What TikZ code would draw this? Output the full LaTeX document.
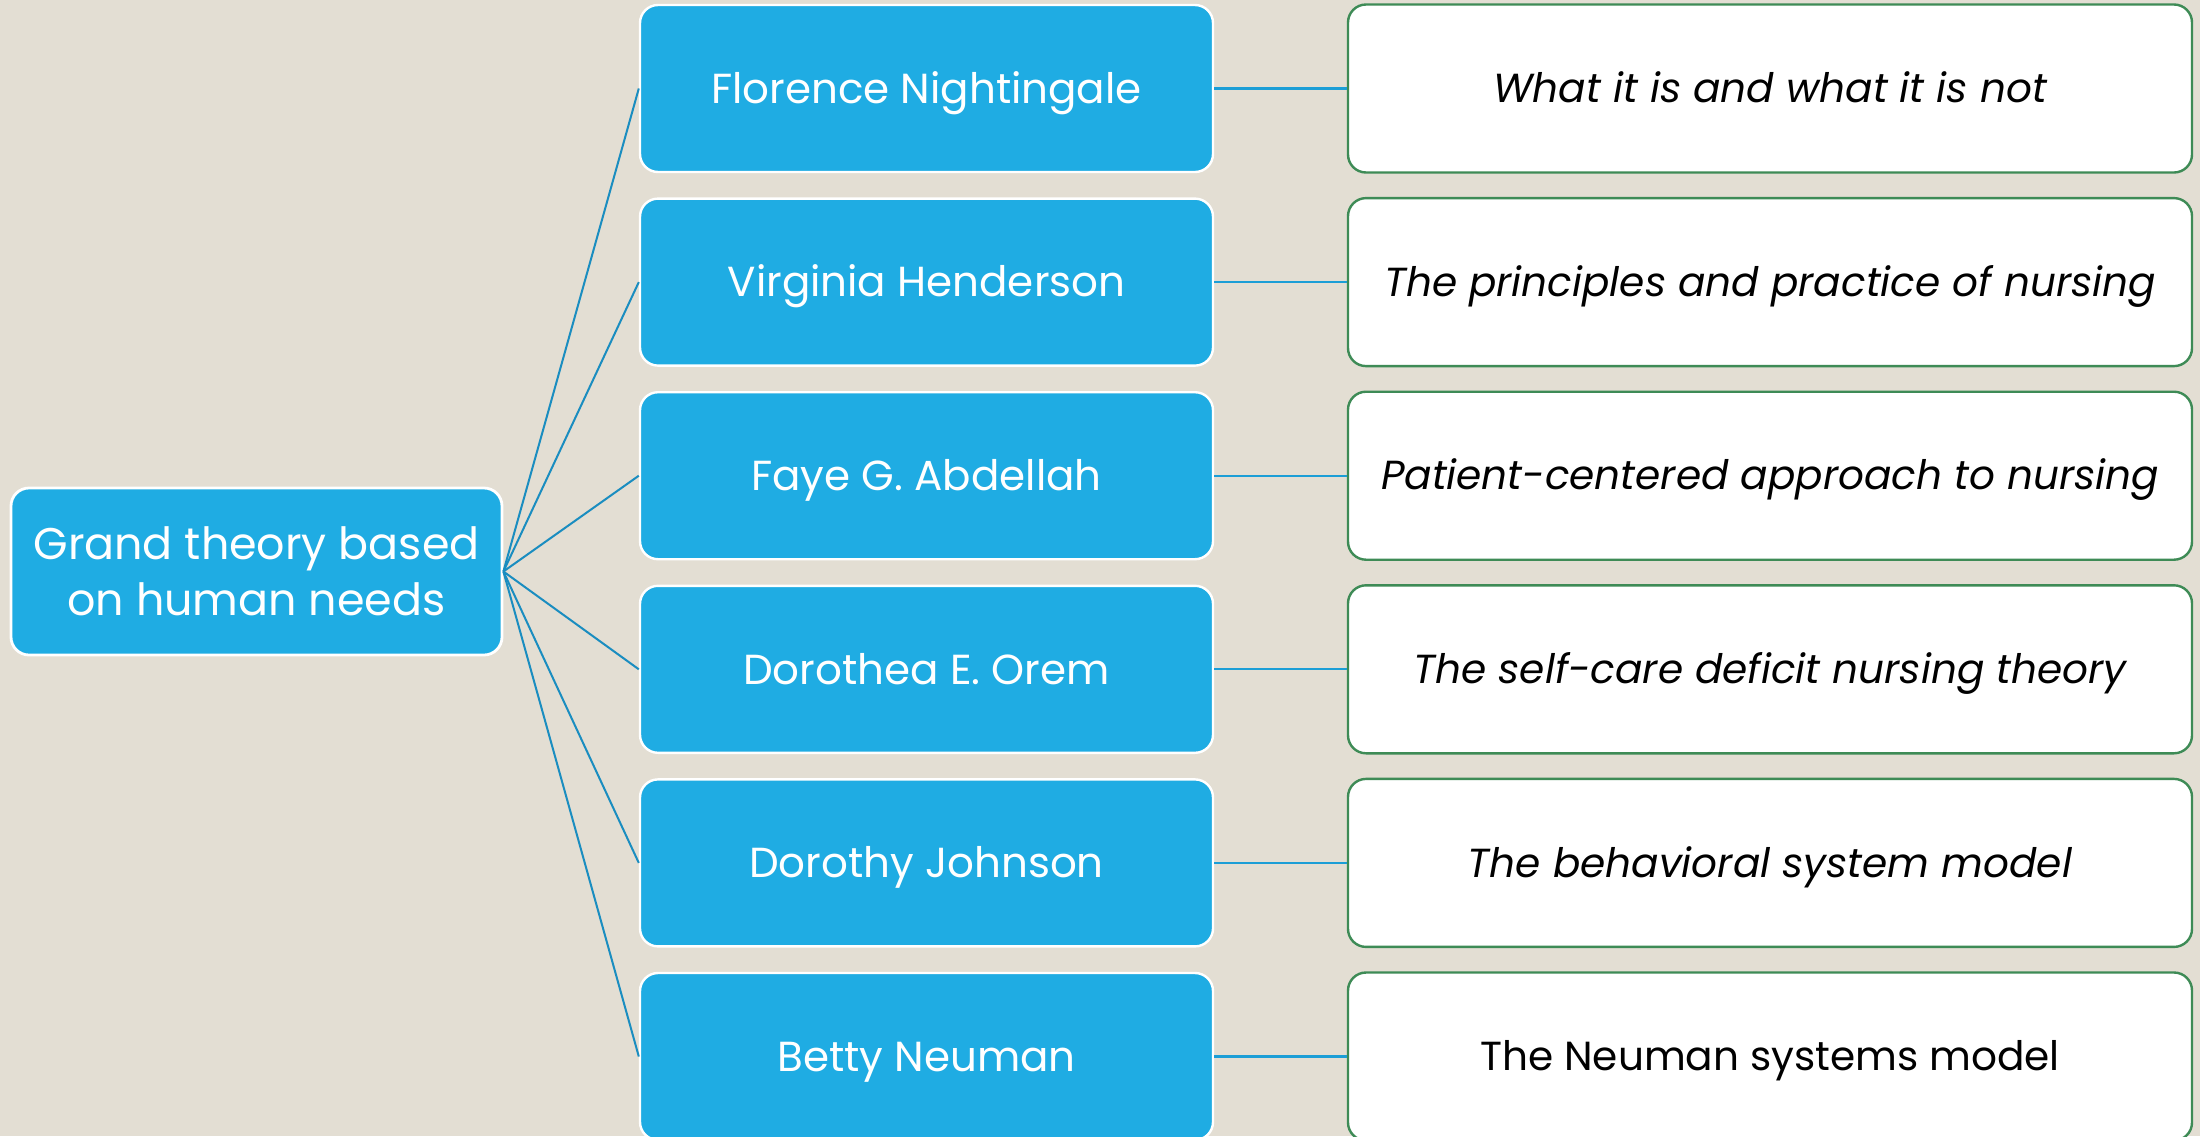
\documentclass[tikz,border=0pt]{standalone}
\usepackage{fontspec}
\setmainfont{Poppins}
\definecolor{bg}{HTML}{E3DED3}
\definecolor{bluefill}{HTML}{1FACE3}
\definecolor{fanline}{HTML}{1A8DC0}
\definecolor{hline}{HTML}{1C9ED6}
\definecolor{greenb}{HTML}{3E8B56}
\begin{document}
\begin{tikzpicture}[x=0.5pt,y=-0.5pt,
  rootbox/.style={draw=white,line width=1.4pt,fill=bluefill,rounded corners=9pt,
    minimum width=245.5pt,minimum height=83.5pt,inner sep=0pt,text=white,
    align=center,font=\fontsize{22.2}{28}\selectfont},
  midbox/.style={draw=white,line width=1.2pt,fill=bluefill,rounded corners=9pt,
    minimum width=286.5pt,minimum height=83.5pt,inner sep=0pt,text=white,
    text height=14.7pt,text depth=0pt,
    font=\fontsize{21}{25}\selectfont},
  bookbox/.style={draw=greenb,line width=1.2pt,fill=white,rounded corners=9pt,
    minimum width=422pt,minimum height=84pt,inner sep=0pt,text=black,
    text height=14.2pt,text depth=0pt,
    font=\fontsize{20.3}{24}\selectfont},
  fan/.style={draw=fanline,line width=1pt},
  link/.style={draw=hline,line width=1.1pt}]
\fill[bg] (0,0) rectangle (2200,1136);
\useasboundingbox (0,0) rectangle (2200,1136);
\node[rootbox] (root) at (256.5,571.5) {Grand theory based\\on human needs};
\node[midbox] (m1) at (926.5,88.5) {Florence Nightingale};
\node[midbox] (m2) at (926.5,282.1) {Virginia Henderson};
\node[midbox] (m3) at (926.5,475.7) {Faye G. Abdellah};
\node[midbox] (m4) at (926.5,669.3) {Dorothea E. Orem};
\node[midbox] (m5) at (926.5,862.9) {Dorothy Johnson};
\node[midbox] (m6) at (926.5,1056.5) {Betty Neuman};
\node[bookbox] (r1) at (1770,88.5) {\itshape What it is and what it is not};
\node[bookbox] (r2) at (1770,282.1) {\itshape The principles and practice of nursing};
\node[bookbox] (r3) at (1770,475.7) {\itshape Patient-centered approach to nursing};
\node[bookbox] (r4) at (1770,669.3) {\itshape The self-care deficit nursing theory};
\node[bookbox] (r5) at (1770,862.9) {\itshape The behavioral system model};
\node[bookbox] (r6) at (1770,1056.5) {The Neuman systems model};
\foreach \i in {1,...,6} {
  \draw[fan] (root.east) -- (m\i.west);
  \draw[link] (m\i.east) -- (r\i.west);
}
\end{tikzpicture}
\end{document}
